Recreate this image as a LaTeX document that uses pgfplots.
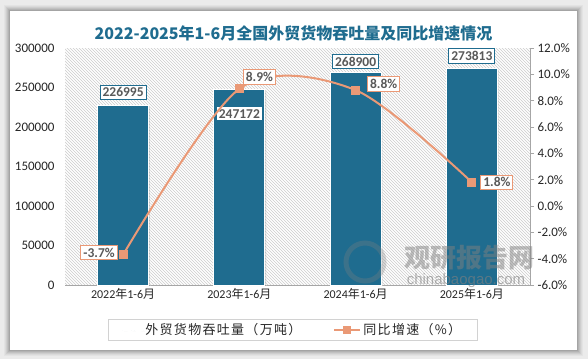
\documentclass[border=0pt]{standalone}
\usepackage{fontspec}
\setmainfont{Carlito}
\newfontfamily\cjk{Noto Sans CJK SC}
\newfontfamily\cjklg[LetterSpace=10]{Noto Sans CJK SC}
\newfontfamily\wmfont{Liberation Sans}
\usepackage{pgfplots}
\pgfplotsset{compat=1.18}
\usetikzlibrary{patterns,shadows}
\definecolor{barblue}{RGB}{31,108,143}
\definecolor{lineor}{RGB}{234,153,118}
\definecolor{txtgray}{RGB}{89,89,89}
\definecolor{titleblue}{RGB}{31,108,143}
\begin{document}
\begin{tikzpicture}
% background and card
\fill[black!8] (0pt,0pt) rectangle (588pt,-359pt);
\foreach \i/\o in {6/0.03,5/0.04,4/0.05,3/0.06,2/0.07,1/0.08}{
  \fill[black,opacity=\o] (10pt-\i pt,-11pt+\i pt) rectangle (577pt+\i pt,-350pt-\i pt);
}
\fill[white] (10pt,-11pt) rectangle (577pt,-350pt);
\node[font=\cjk\bfseries\fontsize{16}{18}\selectfont, text=titleblue] at (293.5pt,-33pt) {2022-2025年1-6月全国外贸货物吞吐量及同比增速情况};

\begin{axis}[
  at={(65pt,-285pt)}, anchor=south west,
  width=465pt, height=237pt, scale only axis,
  xmin=-0.5, xmax=3.5, ymin=0, ymax=300000,
  xtick={0,1,2,3},
  xticklabels={2022{\cjk 年}1-6{\cjk 月},2023{\cjk 年}1-6{\cjk 月},2024{\cjk 年}1-6{\cjk 月},2025{\cjk 年}1-6{\cjk 月}},
  ytick={0,50000,100000,150000,200000,250000,300000},
  scaled y ticks=false,
  yticklabel style={xshift=-7pt,/pgf/number format/.cd,1000 sep={},fixed,assume math mode=true},
  axis x line*=bottom, axis y line*=left,
  y axis line style={draw=none},
  x axis line style={draw=gray!70, line width=1pt, -},
  tick style={draw=none},
  axis background/.style={pattern=north west lines, pattern color=gray!40},
  tick label style={font=\fontsize{13}{15}\selectfont, text=black!85},
  xticklabel style={font=\fontsize{12}{14}\selectfont},
  clip=false,
  legend style={at={(0.49,-0.19)}, anchor=center, draw=gray!35, line width=0.8pt,
    legend columns=2, font=\cjklg\fontsize{13}{15}\selectfont, text=black!85,
    inner xsep=14pt, inner ysep=2pt,
    /tikz/every even column/.append style={column sep=30pt}},
]
\addplot[ybar, bar width=51pt, fill=barblue, draw=white, line width=0.8pt,
  drop shadow={opacity=0.25, shadow xshift=1.5pt, shadow yshift=-1pt}]
  coordinates {(0,226995) (1,247172) (2,268900) (3,273813)};
\addlegendentry{外贸货物吞吐量（万吨）}
\addlegendimage{legend image code/.code={\draw[lineor, line width=2pt] (0pt,0pt) -- (26pt,0pt); \fill[lineor] (9pt,-3.5pt) rectangle (16pt,3.5pt);}}
\addlegendentry{同比增速（\%）}
\tikzset{blbl/.style={draw=barblue, fill=white, line width=1pt, text=txtgray, font=\bfseries\fontsize{13.5}{15}\selectfont, inner sep=2.5pt}}
\node[blbl, yshift=13.5pt] at (axis cs:0,226995) {226995};
\node[blbl, yshift=-24pt] at (axis cs:1,247172) {247172};
\node[blbl, yshift=11pt] at (axis cs:2,268900) {268900};
\node[blbl, yshift=12.5pt] at (axis cs:3,273813) {273813};
\end{axis}

\begin{axis}[
  at={(65pt,-285pt)}, anchor=south west,
  width=465pt, height=237pt, scale only axis,
  xmin=-0.5, xmax=3.5, ymin=-6, ymax=12,
  ytick={-6,-4,-2,0,2,4,6,8,10,12},
  axis y line*=right, axis x line=none,
  y axis line style={draw=gray!70, line width=0.8pt, -},
  ytick style={draw=gray!70, line width=0.8pt},
  tick align=outside, major tick length=4pt,
  yticklabel={\pgfmathprintnumber[fixed,fixed zerofill,precision=1,assume math mode=true]{\tick}\%},
  tick label style={font=\fontsize{13}{15}\selectfont, text=black!85},
  clip=false,
]
\addplot[lineor, line width=2pt, smooth, tension=0.5, mark=square*, mark size=3.5pt,
  mark options={fill=lineor, draw=lineor}]
  coordinates {(0,-3.7) (1,8.9) (2,8.8) (3,1.8)};
\tikzset{llbl/.style={draw=lineor, fill=white, line width=1pt, text=txtgray, font=\bfseries\fontsize{13.5}{15}\selectfont, inner sep=2.5pt}}
\node[llbl, xshift=-24pt, yshift=2pt] at (axis cs:0,-3.7) {-3.7\%};
\node[llbl, xshift=20pt, yshift=12pt] at (axis cs:1,8.9) {8.9\%};
\node[llbl, xshift=28pt, yshift=6pt] at (axis cs:2,8.8) {8.8\%};
\node[llbl, xshift=25pt, yshift=0pt] at (axis cs:3,1.8) {1.8\%};
\end{axis}

% watermark
\draw[gray, opacity=0.3, line width=5pt] (365pt,-262pt) circle (19pt);
\node[text=gray, opacity=0.5, font=\cjk\bfseries\fontsize{26}{28}\selectfont] at (469pt,-258pt) {观研报告网};
\node[text=gray, opacity=0.6, font=\wmfont\fontsize{15}{17}\selectfont, inner sep=0pt] at (466pt,-281pt) {chinabaogao.com};
\end{tikzpicture}
\end{document}
